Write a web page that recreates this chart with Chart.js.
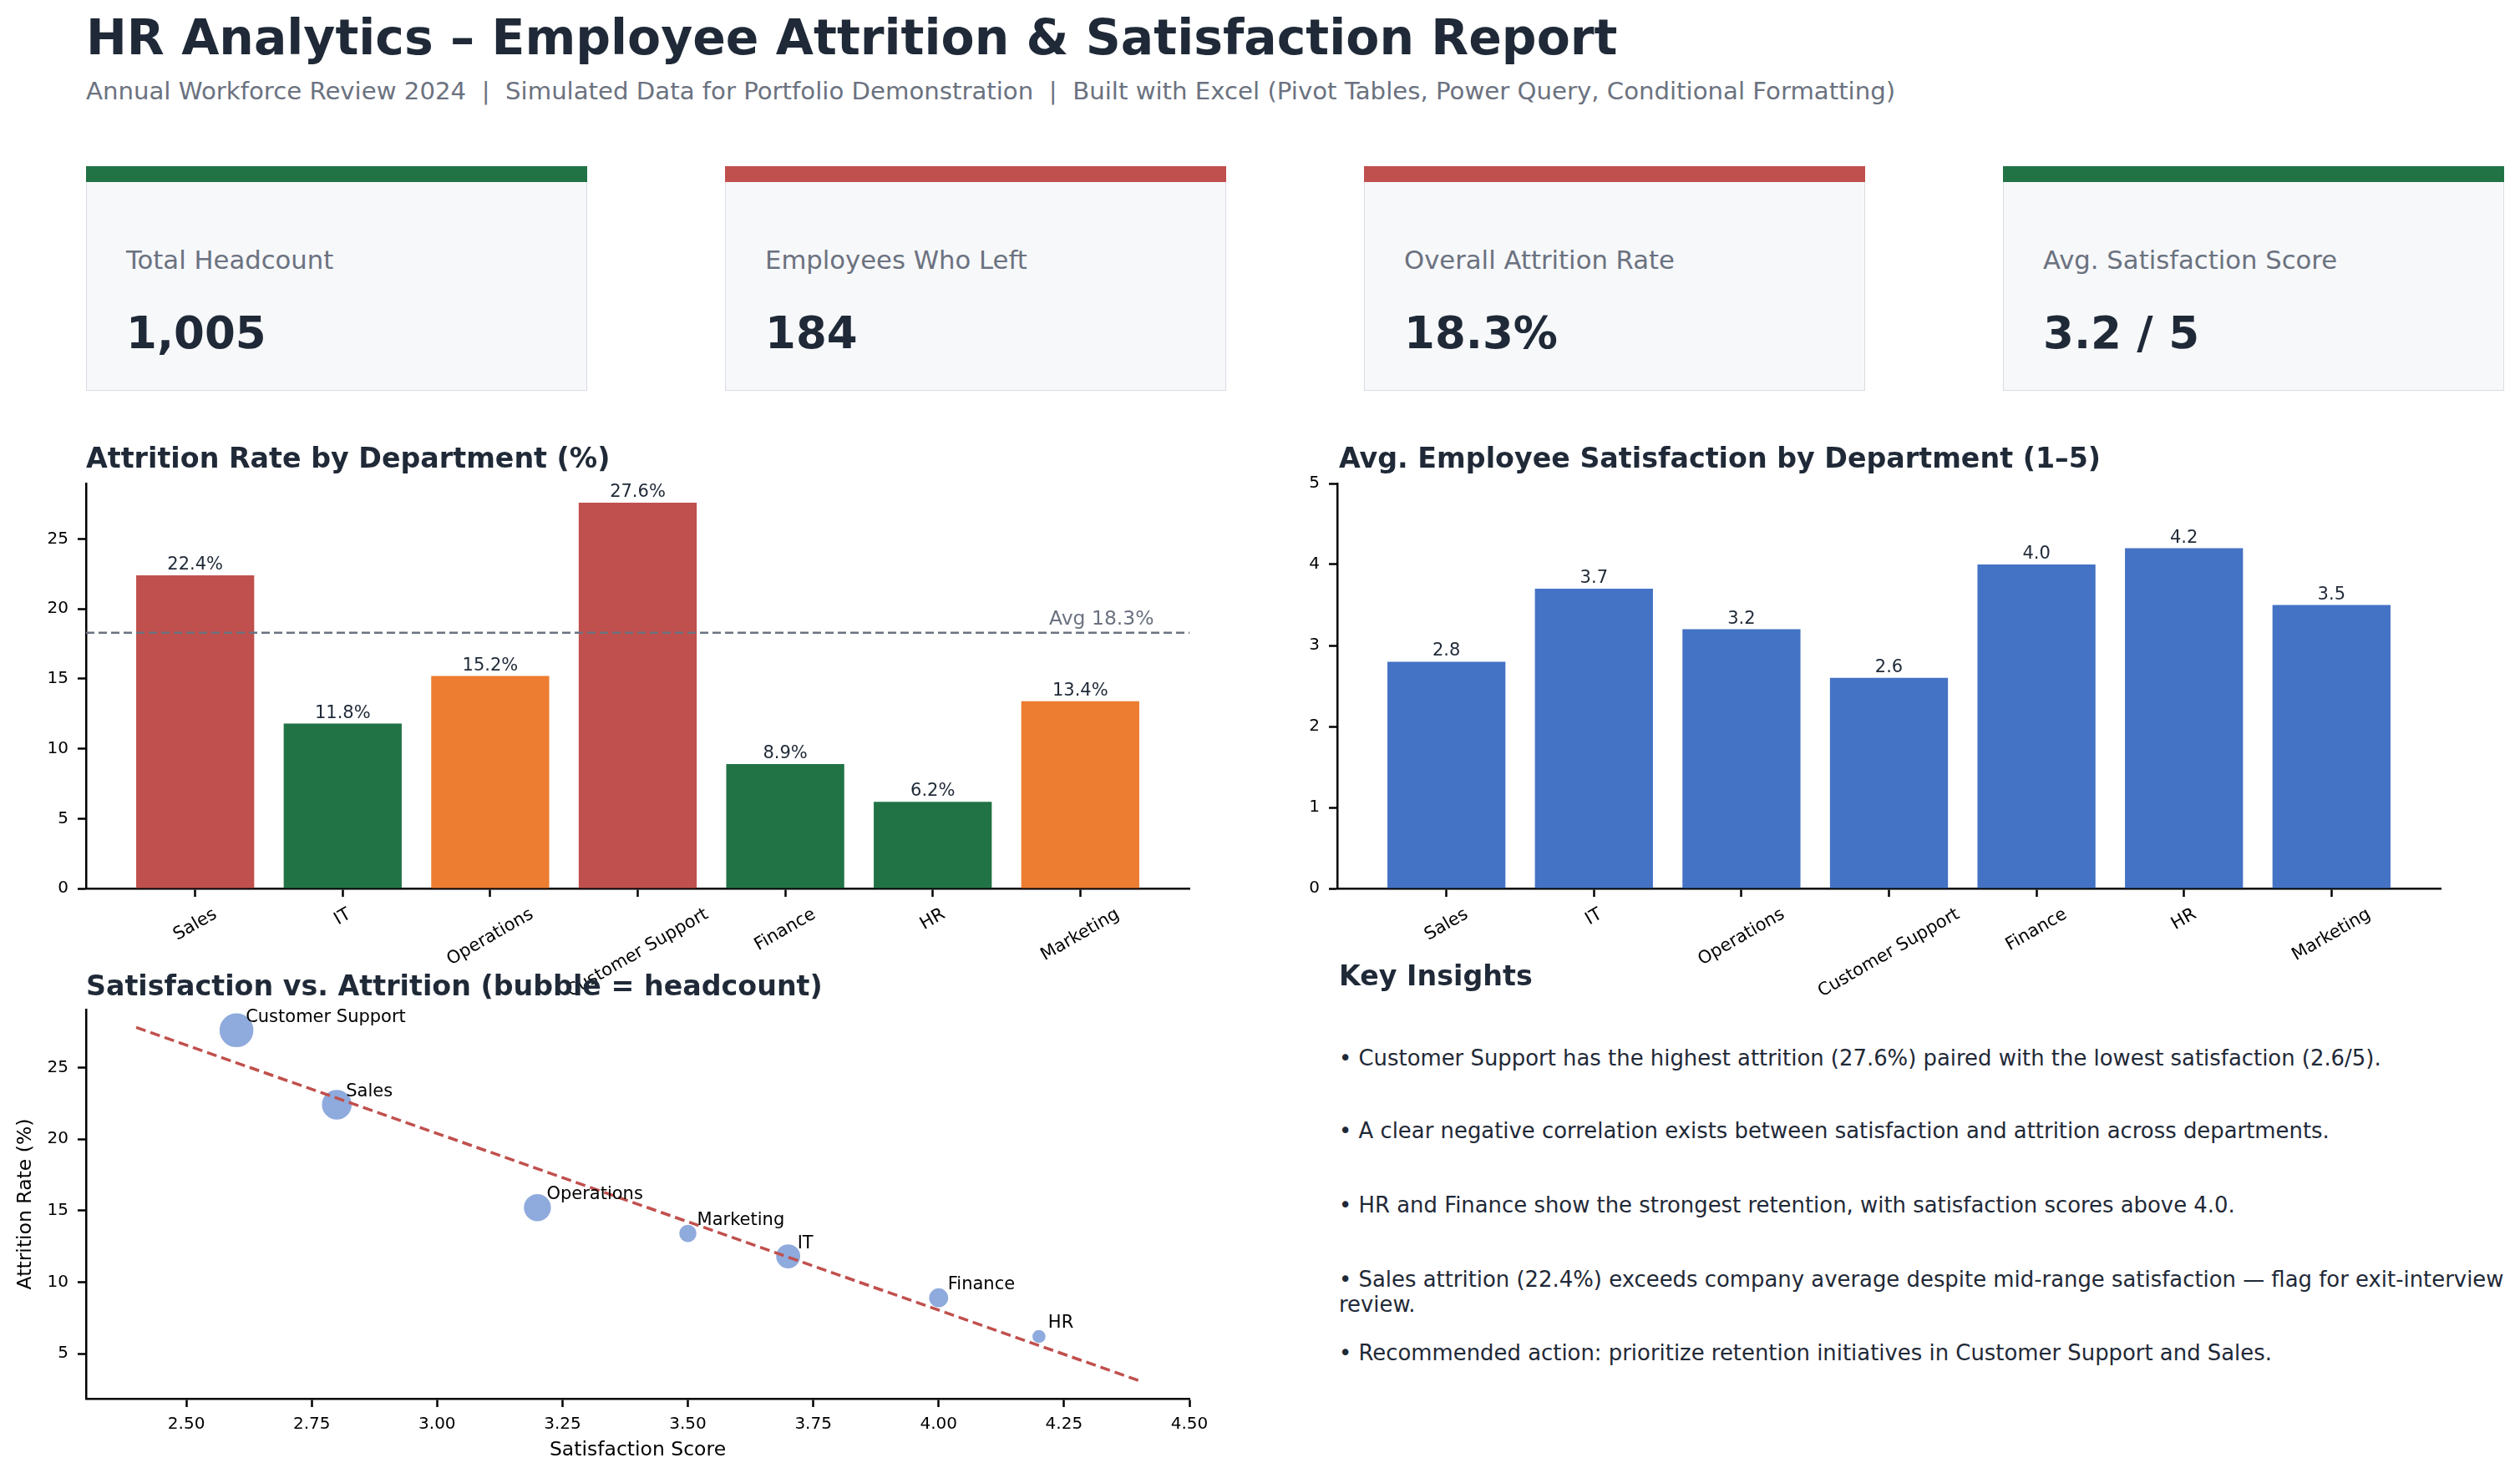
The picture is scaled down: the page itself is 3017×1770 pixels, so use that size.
<!DOCTYPE html>
<html>
<head>
<meta charset="utf-8">
<title>HR Analytics – Employee Attrition & Satisfaction Report</title>
<script src="https://cdn.jsdelivr.net/npm/chart.js@4.4.1/dist/chart.umd.min.js"></script>
<style>
    html, body { margin: 0; padding: 0; background: #fff; }
    body { width: 3017px; height: 1770px; position: relative; overflow: hidden; font-family: 'DejaVu Sans', sans-serif; color: #1f2937; }
    .txt { position: absolute; white-space: pre; line-height: 1; }
    .main-title { left: 103px; top: 16px; font-size: 58.4px; font-weight: bold; }
    .subtitle { left: 103px; top: 95px; font-size: 29.2px; color: #6b7280; }
    .card-bar { position: absolute; top: 199px; width: 600px; height: 19px; }
    .card-body { position: absolute; top: 218px; width: 600px; height: 250px; box-sizing: border-box; background: #f7f8fa; border: 1.5px solid #d9dce1; border-top: none; }
    .card-label { top: 297px; font-size: 30.7px; color: #6b7280; }
    .card-value { top: 372px; font-size: 53px; font-weight: bold; }
    .section-title { font-size: 33.3px; font-weight: bold; z-index: 2; }
    .insight { left: 1603px; font-size: 25.9px; line-height: 30px; }
    canvas { position: absolute; z-index: 1; }
</style>
</head>
<body>
<div class="txt main-title">HR Analytics – Employee Attrition &amp; Satisfaction Report</div>
<div class="txt subtitle">Annual Workforce Review 2024  |  Simulated Data for Portfolio Demonstration  |  Built with Excel (Pivot Tables, Power Query, Conditional Formatting)</div>
<div id="kpis"></div>

<div class="txt section-title" style="left:103px; top:532px;">Attrition Rate by Department (%)</div>
<div class="txt section-title" style="left:1603px; top:532px;">Avg. Employee Satisfaction by Department (1–5)</div>
<div class="txt section-title" style="left:103px; top:1164px;">Satisfaction vs. Attrition (bubble = headcount)</div>
<div class="txt section-title" style="left:1603px; top:1152px;">Key Insights</div>
<div id="insights"></div>

<canvas id="attritionChart" width="1464" height="638" style="left:0px; top:556px;"></canvas>
<canvas id="satisfactionChart" width="1462" height="638" style="left:1500px; top:556px;"></canvas>
<canvas id="scatterChart" width="1464" height="584" style="left:0px; top:1186px;"></canvas>

<script>
// dados do relatório
const departments = ['Sales', 'IT', 'Operations', 'Customer Support', 'Finance', 'HR', 'Marketing'];
const attritionRate = [22.4, 11.8, 15.2, 27.6, 8.9, 6.2, 13.4];
const satisfaction = [2.8, 3.7, 3.2, 2.6, 4.0, 4.2, 3.5];
const headcount = [210, 140, 175, 270, 90, 45, 75];
const avgAttrition = 18.3;

// linha de tendência (pontas)
const trendX = [2.4, 4.4];
const trendY = [27.8, 3.1];

const attritionTicks = [0, 5, 10, 15, 20, 25];
const satisfactionTicks = [0, 1, 2, 3, 4, 5];
const scatterXTicks = [2.5, 2.75, 3.0, 3.25, 3.5, 3.75, 4.0, 4.25, 4.5];
const scatterYTicks = [5, 10, 15, 20, 25];

const kpiLabels = ['Total Headcount', 'Employees Who Left', 'Overall Attrition Rate', 'Avg. Satisfaction Score'];
const kpiValues = ['1,005', '184', '18.3%', '3.2 / 5'];
const kpiStatus = ['good', 'bad', 'bad', 'good'];

const insights = [
    '• Customer Support has the highest attrition (27.6%) paired with the lowest satisfaction (2.6/5).',
    '• A clear negative correlation exists between satisfaction and attrition across departments.',
    '• HR and Finance show the strongest retention, with satisfaction scores above 4.0.',
    '• Sales attrition (22.4%) exceeds company average despite mid-range satisfaction — flag for exit-interview\nreview.',
    '• Recommended action: prioritize retention initiatives in Customer Support and Sales.'
];

const RED = '#c0504d', GREEN = '#217346', ORANGE = '#ed7d31', BLUE = '#4472c4';
const FONT = 'DejaVu Sans';

Chart.defaults.font.family = FONT;
Chart.defaults.color = '#000';

// ---------- KPI cards ----------
function renderKpis() {
    const box = document.getElementById('kpis');
    kpiLabels.forEach((label, i) => {
        const left = 103 + i * 765;
        const color = kpiStatus[i] === 'good' ? GREEN : RED;
        box.innerHTML += `
            <div class="card-bar" style="left:${left}px; background:${color};"></div>
            <div class="card-body" style="left:${left}px;"></div>
            <div class="txt card-label" style="left:${left + 48}px;">${label}</div>
            <div class="txt card-value" style="left:${left + 48}px;">${kpiValues[i]}</div>
        `;
    });
}

function renderInsights() {
    const tops = [1252, 1339, 1428, 1517, 1605];
    document.getElementById('insights').innerHTML = insights
        .map((t, i) => `<div class="txt insight" style="top:${tops[i]}px;">${t}</div>`)
        .join('');
}

// ---------- helpers ----------
function axisStyle(extra) {
    return Object.assign({
        grid: { display: true, drawOnChartArea: false, drawTicks: true, tickLength: 10, tickWidth: 2.5, tickColor: '#000' },
        border: { display: true, color: '#000', width: 2.5 }
    }, extra);
}

function setTicks(values) {
    return (scale) => { scale.ticks = values.map(v => ({ value: v })); };
}

function barColor(v) {
    if (v >= 20) return RED;
    if (v >= 12) return ORANGE;
    return GREEN;
}

// rótulos do eixo x inclinados 30° e centralizados no tick (estilo matplotlib)
const rotatedLabels = {
    id: 'rotatedLabels',
    afterDraw(chart) {
        const { ctx, chartArea, scales: { x } } = chart;
        const a = Math.PI / 6;
        const size = 21;
        ctx.save();
        ctx.font = `${size}px "${FONT}"`;
        ctx.fillStyle = '#000';
        ctx.textAlign = 'center';
        ctx.textBaseline = 'middle';
        departments.forEach((d, i) => {
            const w = ctx.measureText(d).width;
            const bh = w * Math.sin(a) + size * 1.16 * Math.cos(a);
            const cx = x.getPixelForValue(i);
            const cy = chartArea.bottom + 19 + bh / 2;
            ctx.save();
            ctx.translate(cx, cy);
            ctx.rotate(-a);
            ctx.fillText(d, 0, 0);
            ctx.restore();
        });
        ctx.restore();
    }
};

function barValueLabels(fmt) {
    return {
        id: 'barValueLabels',
        afterDatasetsDraw(chart) {
            const { ctx } = chart;
            const meta = chart.getDatasetMeta(0);
            ctx.save();
            ctx.font = `21px "${FONT}"`;
            ctx.fillStyle = '#1f2937';
            ctx.textAlign = 'center';
            ctx.textBaseline = 'alphabetic';
            meta.data.forEach((bar, i) => {
                ctx.fillText(fmt(chart.data.datasets[0].data[i].y), bar.x, bar.y - 7);
            });
            ctx.restore();
        }
    };
}

function barScales(yMax, yTicks, yWidth) {
    return {
        x: axisStyle({
            type: 'linear', min: -0.74, max: 6.74, offset: false,
            grid: { display: true, offset: false, drawOnChartArea: false, drawTicks: true, tickLength: 10, tickWidth: 2.5, tickColor: '#000' },
            ticks: { display: false },
            afterBuildTicks: setTicks(departments.map((d, i) => i)),
            afterFit: (s) => { s.height = 130; }
        }),
        y: axisStyle({
            type: 'linear', min: 0, max: yMax,
            ticks: { font: { size: 20 }, padding: 11, color: '#000' },
            afterBuildTicks: setTicks(yTicks),
            afterFit: (s) => { s.width = yWidth; }
        })
    };
}

const baseOptions = {
    responsive: false,
    animation: false,
    events: [],
    plugins: { legend: { display: false }, tooltip: { enabled: false } }
};

// ---------- Chart 1: Attrition by department ----------
function renderAttritionChart() {
    new Chart(document.getElementById('attritionChart'), {
        type: 'bar',
        data: {
            datasets: [
                {
                    type: 'line', order: 0,
                    data: [{ x: -0.74, y: avgAttrition }, { x: 6.74, y: avgAttrition }],
                    borderColor: '#6b7280', borderWidth: 2.7, borderDash: [10, 5], pointRadius: 0
                },
                {
                    type: 'bar', order: 1,
                    data: departments.map((d, i) => ({ x: i, y: attritionRate[i] })),
                    backgroundColor: attritionRate.map(barColor),
                    categoryPercentage: 1, barPercentage: 0.8, borderWidth: 0
                }
            ]
        },
        options: Object.assign({}, baseOptions, {
            layout: { padding: { top: 20, right: 40, left: 0, bottom: 0 } },
            scales: barScales(28.98, attritionTicks, 103)
        }),
        plugins: [rotatedLabels, {
            id: 'barLabels',
            afterDatasetsDraw(chart) {
                const { ctx, scales: { x, y } } = chart;
                const meta = chart.getDatasetMeta(1);
                ctx.save();
                ctx.font = `21px "${FONT}"`;
                ctx.fillStyle = '#1f2937';
                ctx.textAlign = 'center';
                meta.data.forEach((bar, i) => ctx.fillText(attritionRate[i].toFixed(1) + '%', bar.x, bar.y - 7));
                // rótulo da média
                ctx.fillStyle = '#6b7280';
                ctx.font = `23.5px "${FONT}"`;
                ctx.textAlign = 'right';
                ctx.fillText(`Avg ${avgAttrition}%`, x.getPixelForValue(6.5), y.getPixelForValue(avgAttrition) - 10);
                ctx.restore();
            }
        }]
    });
}

// ---------- Chart 2: Satisfaction by department ----------
function renderSatisfactionChart() {
    new Chart(document.getElementById('satisfactionChart'), {
        type: 'bar',
        data: {
            datasets: [{
                data: departments.map((d, i) => ({ x: i, y: satisfaction[i] })),
                backgroundColor: BLUE,
                categoryPercentage: 1, barPercentage: 0.8, borderWidth: 0
            }]
        },
        options: Object.assign({}, baseOptions, {
            layout: { padding: { top: 20, right: 40, left: 0, bottom: 0 } },
            scales: barScales(5, satisfactionTicks, 101)
        }),
        plugins: [rotatedLabels, barValueLabels(v => v.toFixed(1))]
    });
}

// ---------- Chart 3: bubble scatter ----------
function renderScatterChart() {
    new Chart(document.getElementById('scatterChart'), {
        type: 'bubble',
        data: {
            datasets: [
                {
                    type: 'line', order: 0,
                    data: trendX.map((x, i) => ({ x: x, y: trendY[i] })),
                    borderColor: RED, borderWidth: 3.5, borderDash: [12, 6], pointRadius: 0
                },
                {
                    type: 'bubble', order: 1,
                    data: departments.map((d, i) => ({ x: satisfaction[i], y: attritionRate[i], r: Math.sqrt(headcount[i]) * 1.28 })),
                    backgroundColor: 'rgba(68, 114, 196, 0.6)',
                    borderColor: '#ffffff', borderWidth: 1.5
                }
            ]
        },
        options: Object.assign({}, baseOptions, {
            layout: { padding: { top: 20, right: 40, left: 0, bottom: 0 } },
            scales: {
                x: axisStyle({
                    type: 'linear', min: 2.3, max: 4.5,
                    ticks: { font: { size: 20 }, padding: 9, color: '#000', maxRotation: 0, autoSkip: false, callback: v => Number(v).toFixed(2) },
                    afterBuildTicks: setTicks(scatterXTicks),
                    afterFit: (s) => { s.height = 95; }
                }),
                y: axisStyle({
                    type: 'linear', min: 1.85, max: 29.05,
                    ticks: { font: { size: 20 }, padding: 11, color: '#000' },
                    afterBuildTicks: setTicks(scatterYTicks),
                    afterFit: (s) => { s.width = 103; }
                })
            }
        }),
        plugins: [{
            id: 'bubbleLabels',
            afterDatasetsDraw(chart) {
                const { ctx, chartArea } = chart;
                const meta = chart.getDatasetMeta(1);
                ctx.save();
                ctx.fillStyle = '#000';
                ctx.font = `21px "${FONT}"`;
                ctx.textAlign = 'left';
                ctx.textBaseline = 'alphabetic';
                meta.data.forEach((pt, i) => ctx.fillText(departments[i], pt.x + 11, pt.y - 10));

                // títulos dos eixos
                ctx.font = `23.5px "${FONT}"`;
                ctx.textAlign = 'center';
                ctx.textBaseline = 'middle';
                ctx.fillText('Satisfaction Score', (chartArea.left + chartArea.right) / 2, chartArea.bottom + 62);
                ctx.translate(chartArea.left - 72, (chartArea.top + chartArea.bottom) / 2);
                ctx.rotate(-Math.PI / 2);
                ctx.fillText('Attrition Rate (%)', 0, 0);
                ctx.restore();
            }
        }]
    });
}

renderKpis();
renderInsights();
renderAttritionChart();
renderSatisfactionChart();
renderScatterChart();
</script>
</body>
</html>
